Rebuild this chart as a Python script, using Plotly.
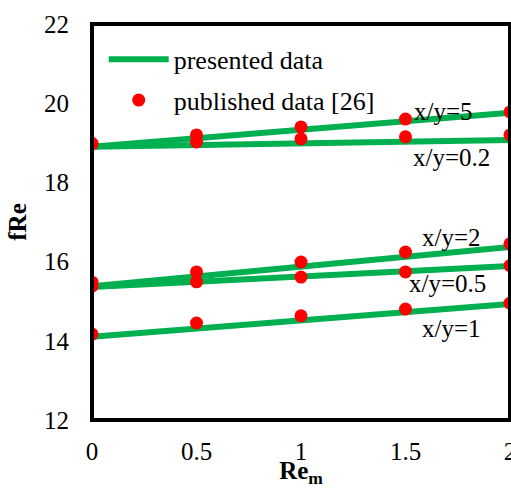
import plotly.graph_objects as go

# Magnetic Reynolds number
rem = [0, 0.5, 1, 1.5, 2]

# Presented results (solid lines), one list per aspect ratio
pres_5 = [18.90, 19.12, 19.33, 19.55, 19.76]
pres_02 = [18.90, 18.95, 18.99, 19.03, 19.07]
pres_2 = [15.38, 15.63, 15.88, 16.12, 16.37]
pres_05 = [15.36, 15.49, 15.62, 15.76, 15.89]
pres_1 = [14.10, 14.31, 14.52, 14.72, 14.93]

# Published results [26] (dots)
pub_5 = [18.98, 19.20, 19.40, 19.60, 19.78]
pub_02 = [18.98, 19.02, 19.10, 19.15, 19.20]
pub_2 = [15.48, 15.74, 15.99, 16.24, 16.45]
pub_05 = [15.38, 15.49, 15.61, 15.74, 15.90]
pub_1 = [14.17, 14.45, 14.63, 14.80, 14.95]

series_labels = ["x/y=5", "x/y=0.2", "x/y=2", "x/y=0.5", "x/y=1"]
label_pos = [(1.68, 19.80), (1.72, 18.62), (1.72, 16.60), (1.70, 15.45), (1.72, 14.30)]

GREEN = "#00B050"
RED = "#FF0000"
FONT = "Times New Roman, Liberation Serif, serif"

fig = go.Figure()

for i, ys in enumerate([pres_5, pres_02, pres_2, pres_05, pres_1]):
    fig.add_trace(go.Scatter(
        x=rem, y=ys, mode="lines",
        line=dict(color=GREEN, width=6),
        name="presented data", legendgroup="pres",
        showlegend=(i == 0),
    ))

for i, ys in enumerate([pub_5, pub_02, pub_2, pub_05, pub_1]):
    fig.add_trace(go.Scatter(
        x=rem, y=ys, mode="markers",
        marker=dict(color=RED, size=13),
        name="published data [26]", legendgroup="pub",
        showlegend=(i == 0),
    ))

for text, (ax, ay) in zip(series_labels, label_pos):
    fig.add_annotation(x=ax, y=ay, text=text, showarrow=False,
                       font=dict(family=FONT, size=25, color="black"))

# Frame around the plot area
fig.add_shape(type="rect", xref="paper", yref="paper", x0=0, y0=0, x1=1, y1=1,
              line=dict(color="black", width=4))

fig.update_layout(
    width=511, height=488,
    margin=dict(l=92, r=1, t=24, b=68, autoexpand=False),
    paper_bgcolor="white", plot_bgcolor="white",
    font=dict(family=FONT, size=25, color="black"),
    showlegend=True,
    legend=dict(x=0.028, y=0.97, xanchor="left", yanchor="top",
                bgcolor="rgba(0,0,0,0)", font=dict(family=FONT, size=26),
                itemwidth=60, tracegroupgap=4),
    xaxis=dict(range=[0, 2], tickvals=[0, 0.5, 1, 1.5, 2],
               ticktext=["0", "0.5", "1", "1.5", "2"],
               showgrid=False, zeroline=False, showline=False, automargin=False,
               ticks="", ticklabelstandoff=14, ticklabeloverflow="allow",
               title=dict(text="<b>Re<sub>m</sub></b>", standoff=7,
                          font=dict(family=FONT, size=25))),
    yaxis=dict(range=[12, 22], tickvals=[12, 14, 16, 18, 20, 22],
               showgrid=False, zeroline=False, showline=False, automargin=False,
               ticks="", ticklabelstandoff=22,
               title=dict(text="<b>fRe</b>", standoff=10,
                          font=dict(family=FONT, size=25))),
)

fig.write_html("out.html")
